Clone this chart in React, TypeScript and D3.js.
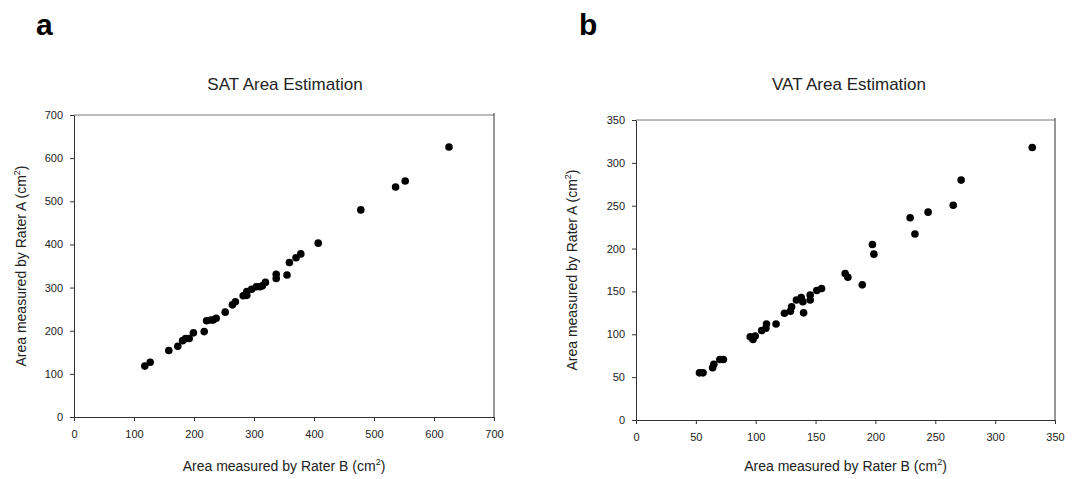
import React, { useEffect, useRef } from "react"
import * as d3 from "d3"

// SAT panel (a): rater B on x, rater A on y
const satB = [118, 127, 158, 173, 181, 186, 192, 199, 217, 221, 228, 232, 237, 252, 264, 269, 282, 288, 288, 296, 304, 310, 314, 319, 337, 337, 355, 359, 370, 378, 407, 478, 536, 552, 625]
const satA = [118, 127, 154, 164, 177, 182, 182, 195, 198, 223, 225, 225, 229, 243, 260, 267, 281, 291, 282, 296, 302, 302, 304, 312, 331, 321, 329, 358, 369, 378, 403, 480, 533, 547, 626]

// VAT panel (b)
const vatB = [53, 56, 64, 65, 70, 73, 95.4, 97.7, 99.6, 105, 108.5, 109, 117, 124, 129, 130, 134, 138, 139.4, 140, 145.5, 145.5, 151, 155, 174.7, 177, 189, 197.5, 198.7, 229, 233, 244, 265, 271.6, 331]
const vatA = [55, 55, 61, 65, 70.5, 70.5, 97, 94, 98, 104.5, 107, 112, 112, 124.5, 127, 132, 140, 143, 138, 125, 145.7, 140, 151, 153.4, 170.8, 166.5, 157.7, 204.7, 193.5, 236, 217, 242.5, 250.6, 279.9, 318]

const satTicks = [0, 100, 200, 300, 400, 500, 600, 700]
const vatTicks = [0, 50, 100, 150, 200, 250, 300, 350]

const font = "'Liberation Sans', Arial, sans-serif"

type Panel = {
    letter: string
    title: string
    xs: number[]
    ys: number[]
    ticks: number[]
    max: number
    left: number
    right: number
    top: number
    bottom: number
    letterX: number
    yTitleX: number
    titleX: number
}

const panels: Panel[] = [
    { letter: "a", title: "SAT Area Estimation", xs: satB, ys: satA, ticks: satTicks, max: 700,
      left: 74, right: 494, top: 115, bottom: 417, letterX: 36, yTitleX: 26, titleX: 285 },
    { letter: "b", title: "VAT Area Estimation", xs: vatB, ys: vatA, ticks: vatTicks, max: 350,
      left: 636, right: 1055, top: 120, bottom: 420, letterX: 579, yTitleX: 577, titleX: 849 },
]

export default function App() {
    const ref = useRef<SVGSVGElement>(null)

    useEffect(() => {
        const svg = d3.select(ref.current)
        svg.selectAll("*").remove()

        panels.forEach(p => {
            const g = svg.append("g")
            const x = d3.scaleLinear().domain([0, p.max]).range([p.left, p.right])
            const y = d3.scaleLinear().domain([0, p.max]).range([p.bottom, p.top])

            // panel letter
            g.append("text")
                .attr("x", p.letterX)
                .attr("y", 35)
                .attr("font-family", font)
                .attr("font-weight", "bold")
                .attr("font-size", 30)
                .text(p.letter)

            // title
            g.append("text")
                .attr("x", p.titleX)
                .attr("y", 90)
                .attr("text-anchor", "middle")
                .attr("font-family", font)
                .attr("font-size", 17)
                .attr("fill", "#222")
                .text(p.title)

            // frame top / right
            g.append("line")
                .attr("x1", p.left).attr("x2", p.right)
                .attr("y1", p.top).attr("y2", p.top)
                .attr("stroke", "#777").attr("stroke-width", 1)
            g.append("line")
                .attr("x1", p.right).attr("x2", p.right)
                .attr("y1", p.top - 2).attr("y2", p.bottom)
                .attr("stroke", "#333").attr("stroke-width", 1)

            const xAxis = g.append("g")
                .attr("transform", `translate(0,${p.bottom})`)
                .call(d3.axisBottom(x).tickValues(p.ticks).tickSize(4).tickSizeOuter(0).tickPadding(9))
            const yAxis = g.append("g")
                .attr("transform", `translate(${p.left},0)`)
                .call(d3.axisLeft(y).tickValues(p.ticks).tickSize(4).tickSizeOuter(0).tickPadding(7))

            ;[xAxis, yAxis].forEach(ax => {
                ax.selectAll("path").attr("stroke", "#333")
                ax.selectAll("line").attr("stroke", "#333")
                ax.selectAll("text")
                    .attr("font-family", font)
                    .attr("font-size", 11)
                    .attr("fill", "#222")
            })

            // axis titles
            const xt = g.append("text")
                .attr("x", (p.left + p.right) / 2)
                .attr("y", 471)
                .attr("text-anchor", "middle")
                .attr("font-family", font)
                .attr("font-size", 14)
                .attr("fill", "#222")
            xt.append("tspan").text("Area measured by Rater B (cm")
            xt.append("tspan").attr("dy", -6).attr("font-size", 9).text("2")
            xt.append("tspan").attr("dy", 6).text(")")

            const yt = g.append("text")
                .attr("transform", `translate(${p.yTitleX},${(p.top + p.bottom) / 2}) rotate(-90)`)
                .attr("text-anchor", "middle")
                .attr("font-family", font)
                .attr("font-size", 14)
                .attr("fill", "#222")
            yt.append("tspan").text("Area measured by Rater A (cm")
            yt.append("tspan").attr("dy", -6).attr("font-size", 9).text("2")
            yt.append("tspan").attr("dy", 6).text(")")

            // points
            g.append("g")
                .selectAll("circle")
                .data(p.xs.map((v, i) => [v, p.ys[i]]))
                .enter()
                .append("circle")
                .attr("cx", d => x(d[0]))
                .attr("cy", d => y(d[1]))
                .attr("r", 3.8)
                .attr("fill", "#000")
        })
    }, [])

    return (
        <svg ref={ref} width={1075} height={479}
            style={{ position: "absolute", left: 0, top: 0, background: "#fff" }} />
    )
}
